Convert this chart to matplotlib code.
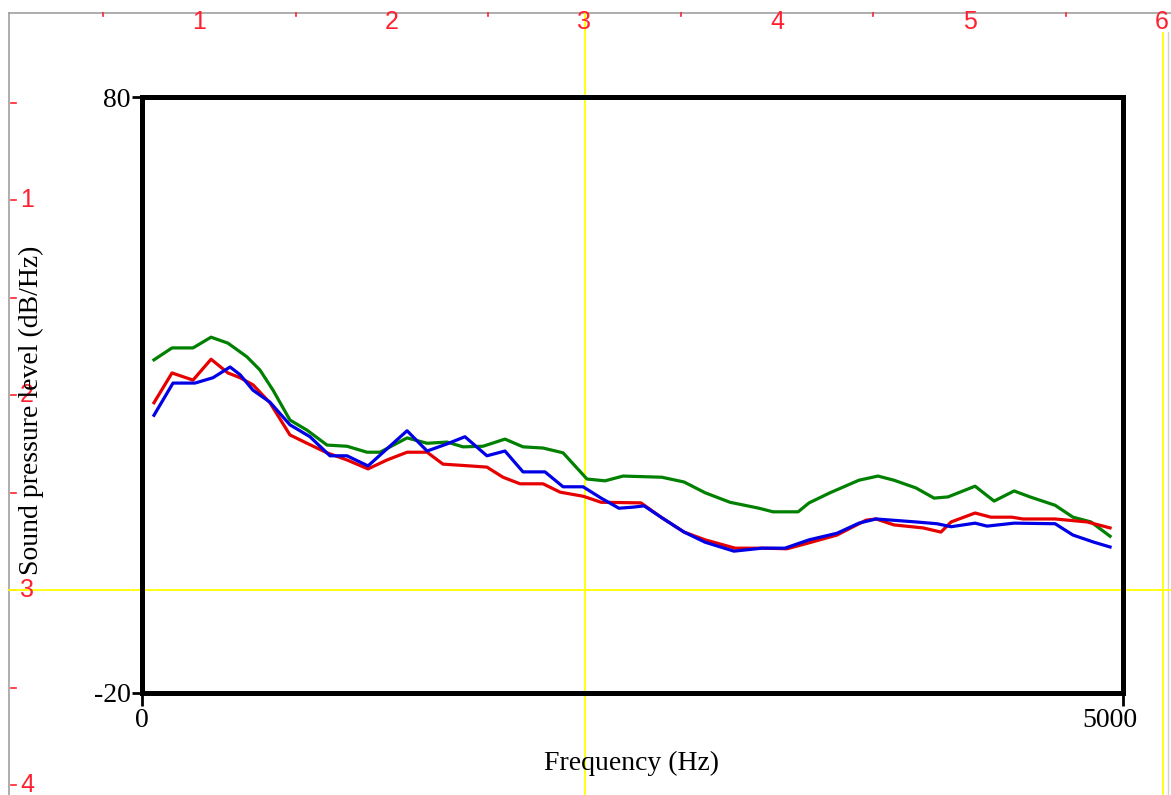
import numpy as np
import matplotlib
matplotlib.use('Agg')
import matplotlib.pyplot as plt
import matplotlib.transforms as mtransforms

# spectra (frequency in Hz, level in dB/Hz)
green_hz = [61, 153, 260, 352, 438, 535, 601, 668, 754, 841, 943, 1045, 1147, 1213,
            1351, 1453, 1555, 1636, 1738, 1850, 1942, 2044, 2146, 2268, 2360, 2452,
            2650, 2763, 2870, 2997, 3145, 3216, 3344, 3400, 3507, 3654, 3751, 3833,
            3945, 4037, 4108, 4246, 4343, 4445, 4526, 4654, 4745, 4837, 4934]
green_db = [35.9, 37.9, 37.9, 39.7, 38.7, 36.4, 34.2, 30.8, 25.8, 24.1, 21.6, 21.4, 20.4, 20.4,
            22.8, 21.9, 22.1, 21.3, 21.4, 22.6, 21.3, 21.1, 20.3, 15.9, 15.6, 16.4,
            16.2, 15.4, 13.6, 12.0, 11.0, 10.4, 10.4, 11.9, 13.6, 15.7, 16.4, 15.7,
            14.4, 12.7, 12.9, 14.7, 12.2, 13.9, 12.9, 11.5, 9.5, 8.7, 6.3]

red_hz = [61, 153, 260, 352, 438, 500, 566, 652, 754, 841, 943, 1045, 1152, 1249,
          1351, 1453, 1534, 1672, 1758, 1840, 1927, 2044, 2131, 2250, 2340, 2543,
          2650, 2763, 2870, 3023, 3160, 3288, 3400, 3542, 3690, 3741, 3833, 3981,
          4072, 4124, 4246, 4327, 4434, 4490, 4654, 4817, 4934]
red_db = [28.7, 33.7, 32.5, 36.0, 33.7, 32.9, 31.7, 28.7, 23.3, 21.9, 20.3, 19.1, 17.6, 19.1,
          20.4, 20.4, 18.4, 18.1, 17.9, 16.2, 15.1, 15.1, 13.7, 13.0, 12.0, 11.9,
          9.4, 7.0, 5.7, 4.3, 4.3, 4.2, 5.2, 6.5, 9.0, 9.2, 8.2, 7.7,
          7.0, 8.7, 10.2, 9.5, 9.5, 9.2, 9.2, 8.7, 7.7]

blue_hz = [61, 158, 270, 362, 449, 500, 566, 652, 754, 856, 958, 1045, 1152, 1351,
           1453, 1555, 1646, 1758, 1850, 1942, 2054, 2146, 2248, 2340, 2431, 2508,
           2559, 2650, 2763, 2870, 3017, 3160, 3277, 3400, 3542, 3654, 3741, 3945,
           4052, 4124, 4246, 4307, 4445, 4654, 4745, 4852, 4934]
blue_db = [26.6, 32.0, 32.0, 32.9, 34.7, 33.4, 30.8, 28.8, 25.0, 23.0, 19.8, 19.8, 18.1, 24.0,
           20.6, 21.8, 23.0, 19.8, 20.6, 17.1, 17.1, 14.6, 14.6, 12.7, 11.0, 11.2,
           11.4, 9.4, 7.0, 5.3, 3.8, 4.3, 4.3, 5.7, 6.8, 8.5, 9.2, 8.7,
           8.4, 7.9, 8.5, 8.0, 8.5, 8.4, 6.5, 5.3, 4.5]

x_ticks = [0, 5000]
y_ticks = [-20, 80]
ruler_top = ['1', '2', '3', '4', '5', '6']
ruler_left = ['1', '2', '3', '4']

W, H = 1171, 795
fig = plt.figure(figsize=(W / 100, H / 100), dpi=100)
fig.patch.set_facecolor('white')

# picture-window background: rulers and yellow guide lines, in pixels
bg = fig.add_axes([0, 0, 1, 1])
bg.set_xlim(0, W)
bg.set_ylim(H, 0)
bg.axis('off')

ruler_red = '#ff2030'
bg.plot([9, W], [13, 13], color='#a0a0a0', lw=1.2)
bg.plot([9, 9], [13, H], color='#a0a0a0', lw=1.2)
bg.plot([1168, 1168], [32, H], color='#d0d0d0', lw=1.0)

x_inch, x0 = 192.5, 7
for i, lab in enumerate(ruler_top):
    xi = x0 + (i + 1) * x_inch
    bg.text(xi, 22, lab, color=ruler_red, fontsize=18, family='Liberation Sans',
            ha='center', va='center')
    bg.plot([xi - x_inch / 2] * 2, [13, 16], color=ruler_red, lw=1.2)

y_inch, y0 = 195, 5
for i, lab in enumerate(ruler_left):
    yi = y0 + (i + 1) * y_inch
    bg.text(20, yi, lab, color=ruler_red, fontsize=18, family='Liberation Sans',
            ha='left', va='center')
    bg.plot([11, 16], [yi, yi], color=ruler_red, lw=1.2)
    bg.plot([11, 16], [yi - y_inch / 2] * 2, color=ruler_red, lw=1.2)

bg.plot([585, 585], [13, H], color='#ffff00', lw=1.3)
bg.plot([1163, 1163], [33, H], color='#ffff00', lw=1.3)
bg.plot([9, W], [590, 590], color='#ffff00', lw=1.3)

# the spectrum panel
left, right, top, bottom = 142, 1123, 97, 693
ax = fig.add_axes([left / W, 1 - bottom / H, (right - left) / W, (bottom - top) / H])
ax.patch.set_alpha(0)

ax.plot(green_hz, green_db, color='#008000', lw=2.3)
ax.plot(red_hz, red_db, color='#e60000', lw=2.3)
ax.plot(blue_hz, blue_db, color='#0000e6', lw=2.3)

ax.set_xlim(0, 5000)
ax.set_ylim(-20, 80)
for s in ax.spines.values():
    s.set_linewidth(3.6)
    s.set_color('black')

serif = 'Liberation Serif'
ax.set_xticks(x_ticks)
ax.set_xticklabels([str(v) for v in x_ticks], fontsize=20, family=serif)
ax.set_yticks(y_ticks)
ax.set_yticklabels([str(v) for v in y_ticks], fontsize=20, family=serif)
ax.tick_params(axis='y', length=7, width=2, pad=1, direction='out')
ax.tick_params(axis='x', length=9, width=2, pad=2, direction='out')

lab = ax.get_xticklabels()[-1]
lab.set_transform(lab.get_transform() + mtransforms.ScaledTranslation(-0.13, 0, fig.dpi_scale_trans))

fig.text(631 / W, 1 - 763 / H, 'Frequency (Hz)', fontsize=20, family=serif,
         ha='center', va='center')
fig.text(31 / W, 1 - 410 / H, 'Sound pressure level (dB/Hz)', fontsize=20, family=serif,
         ha='center', va='center', rotation=90)

plt.savefig('out.png', dpi=100)
